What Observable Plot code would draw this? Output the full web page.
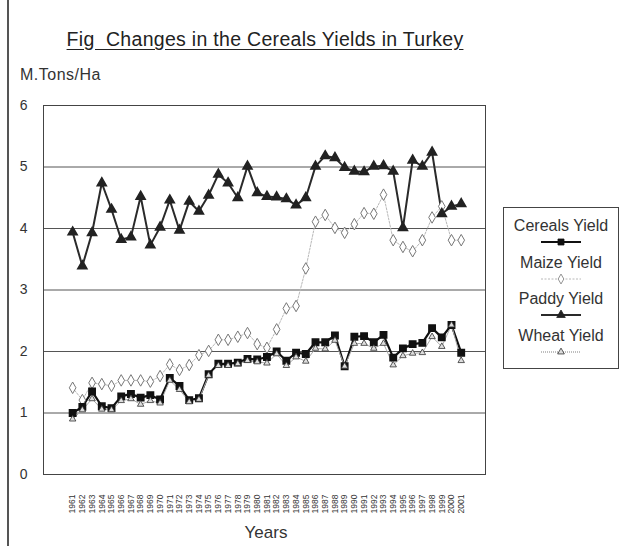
<!DOCTYPE html>
<html>
<head>
<meta charset="utf-8">
<script src="https://cdn.jsdelivr.net/npm/d3@7"></script>
<script src="https://cdn.jsdelivr.net/npm/@observablehq/plot@0.6"></script>
<style>
  html, body { margin: 0; padding: 0; background: #fff; }
  #wrap { position: relative; width: 626px; height: 546px; overflow: hidden; font-family: "Liberation Sans", Arial, sans-serif; color: #222; }
  #edge { position: absolute; left: 7px; top: 0; width: 1.5px; height: 546px; background: #555; }
  #chart { position: absolute; left: 0; top: 0; }
  #title { position: absolute; left: 0; width: 530px; top: 28px; text-align: center; font-size: 19.5px; text-decoration: underline; text-underline-offset: 3px; color: #222; letter-spacing: 0.3px; }
  #ylab { position: absolute; left: 20px; top: 66px; font-size: 16px; color: #333; letter-spacing: 0.5px; }
  #xlab { position: absolute; left: 45px; width: 442px; top: 523px; text-align: center; font-size: 17px; color: #333; }
  #legend { position: absolute; left: 503px; top: 207px; width: 116px; height: 162px; border: 1px solid #444; box-sizing: border-box; }
  .item { position: absolute; left: 0; width: 100%; text-align: center; font-size: 16px; color: #333; }
  .item svg { display: block; margin: 2px auto 0; }
</style>
</head>
<body>
<div id="wrap">
  <div id="edge"></div>
  <div id="chart"></div>
  <div id="title">Fig&nbsp; Changes in the Cereals Yields in Turkey</div>
  <div id="ylab">M.Tons/Ha</div>
  <div id="xlab">Years</div>
  <div id="legend"></div>
</div>
<script>
const years = [1961,1962,1963,1964,1965,1966,1967,1968,1969,1970,
               1971,1972,1973,1974,1975,1976,1977,1978,1979,1980,
               1981,1982,1983,1984,1985,1986,1987,1988,1989,1990,
               1991,1992,1993,1994,1995,1996,1997,1998,1999,2000,2001];

const cereals = [1.00,1.10,1.35,1.11,1.08,1.27,1.31,1.25,1.29,1.22,
                 1.57,1.44,1.21,1.24,1.63,1.80,1.80,1.82,1.88,1.87,
                 1.91,2.00,1.85,1.98,1.96,2.15,2.15,2.26,1.76,2.24,
                 2.25,2.15,2.27,1.90,2.05,2.12,2.14,2.38,2.23,2.43,1.98];

const maize = [1.41,1.21,1.49,1.47,1.44,1.53,1.53,1.53,1.51,1.60,
               1.79,1.70,1.78,1.94,2.01,2.19,2.19,2.24,2.30,2.12,
               2.06,2.36,2.70,2.74,3.35,4.11,4.22,4.01,3.93,4.07,
               4.25,4.24,4.55,3.81,3.70,3.63,3.81,4.18,4.36,3.81,3.81];

const paddy = [3.94,3.39,3.93,4.74,4.31,3.82,3.86,4.52,3.73,4.02,
               4.46,3.97,4.44,4.28,4.54,4.88,4.74,4.50,5.01,4.58,
               4.52,4.51,4.48,4.38,4.50,5.01,5.18,5.15,4.99,4.93,
               4.92,5.01,5.02,4.93,4.01,5.11,5.01,5.24,4.24,4.36,4.40];

const wheat = [0.90,1.05,1.23,1.06,1.05,1.20,1.23,1.14,1.20,1.16,
               1.53,1.38,1.18,1.22,1.61,1.77,1.77,1.80,1.85,1.83,
               1.81,1.96,1.77,1.91,1.84,2.05,2.04,2.18,1.76,2.13,
               2.13,2.05,2.13,1.78,1.93,1.97,1.98,2.24,2.08,2.43,1.85];

const yTicks = [0,1,2,3,4,5,6];
const seriesNames = ["Cereals Yield","Maize Yield","Paddy Yield","Wheat Yield"];

const rows = (vals) => years.map((y, i) => ({year: y, v: vals[i]}));
const C = rows(cereals), M = rows(maize), P = rows(paddy), W = rows(wheat);

const chart = Plot.plot({
  width: 626,
  height: 546,
  marginLeft: 43,
  marginRight: 141,
  marginTop: 105,
  marginBottom: 72,
  style: {background: "transparent", fontFamily: "Liberation Sans, Arial, sans-serif", color: "#333"},
  x: {type: "linear", domain: [1958, 2003.5]},
  y: {domain: [0, 6]},
  marks: [
    Plot.gridY(yTicks.filter(d => d > 0), {stroke: "#555", strokeOpacity: 1, strokeWidth: 1}),
    Plot.frame({stroke: "#444", strokeWidth: 1}),
    Plot.axisY(yTicks, {tickSize: 0, tickPadding: 16, fontSize: 14, label: null, tickFormat: d => String(d)}),
    Plot.axisX(years, {tickSize: 0, tickPadding: 20, tickRotate: -90, fontSize: 8.5, label: null, tickFormat: d => String(d)}),
    Plot.line(M, {x: "year", y: "v", stroke: "#b8b8b8", strokeWidth: 1, strokeDasharray: "2,1.5"}),
    Plot.line(P, {x: "year", y: "v", stroke: "#2a2a2a", strokeWidth: 2}),
    Plot.line(C, {x: "year", y: "v", stroke: "#111", strokeWidth: 2.2}),
    Plot.line(W, {x: "year", y: "v", stroke: "#aaa", strokeWidth: 1}),
    Plot.dot(M, {x: "year", y: "v", symbol: "diamond", r: 3.5, fill: "#fff", stroke: "#777", strokeWidth: 1}),
    Plot.dot(P, {x: "year", y: "v", symbol: "triangle", r: 3.4, fill: "#222", stroke: "#222"}),
    Plot.dot(C, {x: "year", y: "v", symbol: "square", r: 3.6, fill: "#111", stroke: "#111"}),
    Plot.dot(W, {x: "year", y: "v", symbol: "triangle", r: 2.4, fill: "#ddd", stroke: "#333", strokeWidth: 0.8})
  ]
});
document.getElementById("chart").appendChild(chart);

// legend
const legend = document.getElementById("legend");
const sampleStyles = [
  {stroke: "#111", sw: 2.2, dash: null, sym: "square", fill: "#111", sstroke: "#111", r: 3.4},
  {stroke: "#b8b8b8", sw: 1, dash: "2,1.5", sym: "diamond", fill: "#fff", sstroke: "#777", r: 3},
  {stroke: "#2a2a2a", sw: 2, dash: null, sym: "triangle", fill: "#222", sstroke: "#222", r: 3.2},
  {stroke: "#aaa", sw: 1.5, dash: "1,1", sym: "triangle", fill: "#ddd", sstroke: "#333", r: 2.5}
];
const symMap = {square: d3.symbolSquare, diamond: d3.symbolDiamond, triangle: d3.symbolTriangle};
seriesNames.forEach((name, i) => {
  const st = sampleStyles[i];
  const div = document.createElement("div");
  div.className = "item";
  div.style.top = (9 + i * 36.5) + "px";
  div.textContent = name;
  const svg = d3.create("svg").attr("width", 40).attr("height", 10);
  svg.append("line").attr("x1", 0).attr("x2", 40).attr("y1", 5).attr("y2", 5)
    .attr("stroke", st.stroke).attr("stroke-width", st.sw).attr("stroke-dasharray", st.dash);
  svg.append("path").attr("transform", "translate(20,5)")
    .attr("d", d3.symbol(symMap[st.sym], st.r * st.r * Math.PI)())
    .attr("fill", st.fill).attr("stroke", st.sstroke).attr("stroke-width", 0.8);
  div.appendChild(svg.node());
  legend.appendChild(div);
});
</script>
</body>
</html>
